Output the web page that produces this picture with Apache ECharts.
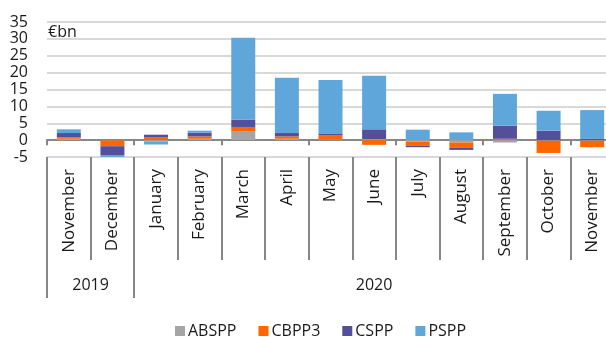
<!DOCTYPE html>
<html>
<head>
<meta charset="utf-8">
<script src="https://cdn.jsdelivr.net/npm/echarts@6/dist/echarts.min.js"></script>
<style>
  html, body { margin: 0; padding: 0; background: #fff; }
  #chart { width: 606px; height: 340px; }
</style>
</head>
<body>
<div id="chart"></div>
<script>
// Monthly net purchases under the asset purchase programmes, €bn
const months = ['November', 'December', 'January', 'February', 'March', 'April', 'May',
                'June', 'July', 'August', 'September', 'October', 'November'];
const years = ['2019', '2020'];
const seriesNames = ['ABSPP', 'CBPP3', 'CSPP', 'PSPP'];

const absppValues = [0.4, -0.1, -0.5, 0.4, 2.7, 0.4, 0.2, 0.3, -0.5, -0.7, -0.7, -0.2, -0.2];
const cbpp3Values = [0.4, -1.7, 0.9, 0.7, 1.2, 0.7, 1.3, -1.4, -1.1, -1.6, 0.4, -3.6, -1.9];
const csppValues  = [1.3, -2.6, 0.7, 1.1, 2.2, 1.0, 0.5, 2.9, -0.5, -0.6, 3.9, 2.8, 0.5];
const psppValues  = [1.1, -0.7, -0.8, 0.6, 24.2, 16.4, 15.8, 15.9, 3.1, 2.3, 9.4, 5.9, 8.4];

const yTicks = { min: -5, max: 35, step: 5 };

const colors = ['#a5a5a5', '#ff6600', '#534f9a', '#5fa7db'];
const font = 'Open Sans';
const lineGrey = '#878787';

const chart = echarts.init(document.getElementById('chart'), null, { renderer: 'canvas' });

const seriesData = [absppValues, cbpp3Values, csppValues, psppValues];

// Year groups: where each year's block of months begins, and its centre on a 0..n scale
const yearStarts = [0, 2];
const yearCentres = [1, 2 + (months.length - 2) / 2];

chart.setOption({
  animation: false,
  textStyle: { fontFamily: font },
  // the plot runs slightly past the right edge of the canvas
  grid: { left: 47, top: 22, width: 567, height: 135, containLabel: false, outerBoundsMode: 'none' },
  xAxis: [
    {
      // axis line through zero with short ticks between months
      type: 'category',
      data: months,
      axisLine: { onZero: true, lineStyle: { color: lineGrey, width: 2 } },
      axisTick: { show: true, length: 5, lineStyle: { color: lineGrey, width: 2 } },
      axisLabel: { show: false },
      splitLine: { show: false }
    },
    {
      // month labels with separators
      type: 'category',
      data: months,
      position: 'bottom',
      axisLine: { show: true, onZero: false, lineStyle: { color: 'rgba(0,0,0,0)', width: 0 } },
      axisTick: { show: true, interval: 0, length: 103, lineStyle: { color: lineGrey, width: 2 } },
      axisLabel: { rotate: 90, margin: 12, fontSize: 17, color: '#1a1a1a', fontFamily: font },
      splitLine: { show: false }
    },
    {
      // longer separators between the year groups
      type: 'category',
      data: months,
      position: 'bottom',
      axisLine: { show: true, onZero: false, lineStyle: { color: 'rgba(0,0,0,0)', width: 0 } },
      axisTick: {
        show: true,
        length: 141,
        interval: function (i) { return yearStarts.indexOf(i) >= 0; },
        lineStyle: { color: lineGrey, width: 2 }
      },
      axisLabel: { show: false },
      splitLine: { show: false }
    },
    {
      // year labels centred under their groups
      type: 'value',
      min: 0,
      max: months.length,
      interval: 0.5,
      position: 'bottom',
      axisLine: { show: false, onZero: false },
      axisTick: { show: false },
      splitLine: { show: false },
      axisLabel: {
        margin: 120,
        fontSize: 16,
        color: '#1a1a1a',
        fontFamily: font,
        showMinLabel: true,
        showMaxLabel: true,
        formatter: function (v) {
          const k = yearCentres.indexOf(v);
          return k >= 0 ? years[k] : '';
        }
      }
    }
  ],
  yAxis: {
    type: 'value',
    min: yTicks.min,
    max: yTicks.max,
    interval: yTicks.step,
    axisLine: { show: false },
    axisTick: { show: false },
    axisLabel: { fontSize: 16, color: '#1a1a1a', margin: 19, fontFamily: font },
    splitLine: { lineStyle: { color: '#d9d9d9', width: 2 } }
  },
  legend: {
    data: seriesNames,
    left: 170,
    top: 318,
    icon: 'rect',
    itemWidth: 10,
    itemHeight: 10,
    itemGap: 22,
    textStyle: { fontSize: 16, color: '#1a1a1a', fontFamily: font, padding: [0, 0, 0, -2] }
  },
  graphic: [
    {
      type: 'text',
      left: 48,
      top: 24,
      style: { text: '€bn', fontSize: 16, fill: '#1a1a1a', fontFamily: font }
    }
  ],
  series: seriesNames.map(function (name, i) {
    return {
      name: name,
      type: 'bar',
      stack: 'total',
      barWidth: '55%',
      xAxisIndex: 0,
      yAxisIndex: 0,
      itemStyle: { color: colors[i] },
      data: seriesData[i]
    };
  })
});
</script>
</body>
</html>
